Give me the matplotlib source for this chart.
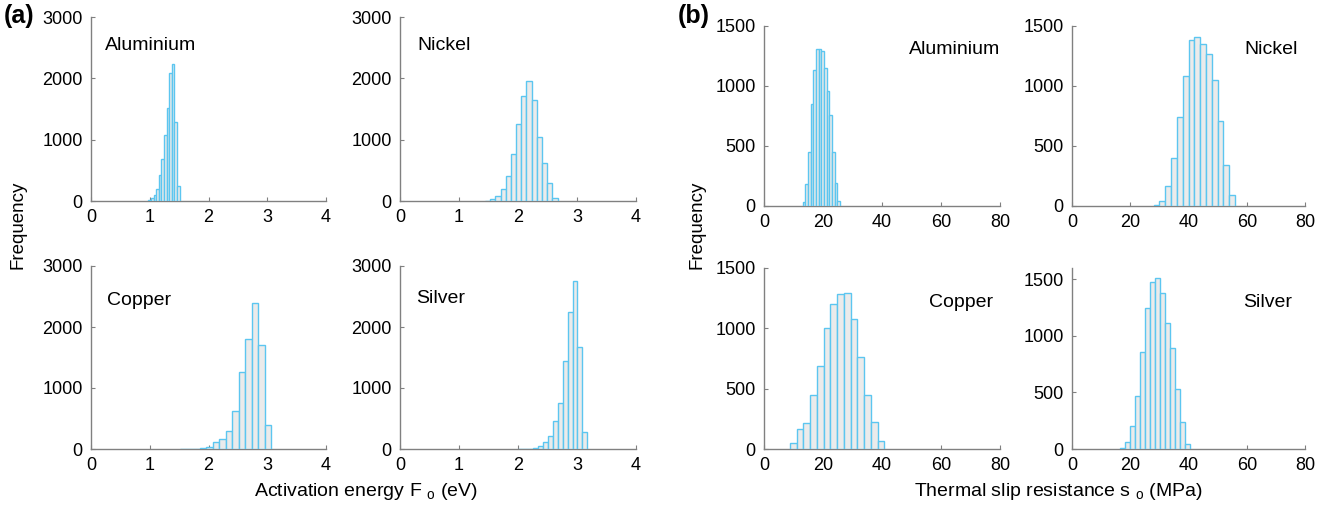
import numpy as np
import matplotlib
matplotlib.use('Agg')
import matplotlib.pyplot as plt

plt.rcParams['font.family'] = ['Liberation Sans', 'DejaVu Sans']
plt.rcParams['mathtext.fontset'] = 'custom'
plt.rcParams['mathtext.rm'] = 'Liberation Sans'
plt.rcParams['mathtext.it'] = 'Liberation Sans'

# (a) activation energy F_o (eV): bin range and counts
al_a_range = (0.977, 1.509)
al_a_counts = [15, 45, 100, 200, 430, 690, 1070, 1520, 2090, 2230, 1280, 250]
ni_a_range = (1.44, 2.67)
ni_a_counts = [5, 30, 80, 190, 400, 760, 1260, 1720, 1950, 1650, 1040, 620, 290, 50]
cu_a_range = (1.52, 3.07)
cu_a_counts = [2, 5, 8, 20, 40, 110, 160, 300, 620, 1260, 1810, 2400, 1700, 400]
ag_a_range = (2.006, 3.175)
ag_a_counts = [2, 4, 8, 20, 50, 110, 220, 460, 760, 1450, 2250, 2760, 1670, 280]

# (b) thermal slip resistance s_o (MPa)
al_b_range = (13.1, 25.7)
al_b_counts = [30, 180, 450, 850, 1130, 1310, 1310, 1290, 1150, 960, 760, 450, 190, 40]
ni_b_range = (28.0, 56.0)
ni_b_counts = [10, 45, 165, 400, 740, 1080, 1380, 1410, 1350, 1270, 1050, 710, 340, 90]
cu_b_range = (8.8, 40.8)
cu_b_counts = [50, 165, 215, 445, 690, 1000, 1200, 1285, 1290, 1075, 760, 445, 225, 70]
ag_b_range = (16.6, 40.6)
ag_b_counts = [10, 60, 200, 470, 860, 1250, 1480, 1510, 1380, 1110, 890, 530, 235, 45]

EDGE = '#5cc6f0'
FILL = '#ebebeb'
GREY = '#808080'
W, H = 1328, 509


def px_axes(fig, left, right, top, bottom):
    return fig.add_axes([left / W, 1 - bottom / H, (right - left) / W, (bottom - top) / H])


def hist_panel(ax, rng, counts, xlim, ylim, xticks, yticks, name, name_xy, ha='left'):
    edges = np.linspace(rng[0], rng[1], len(counts) + 1)
    ax.bar(edges[:-1], counts, width=np.diff(edges), align='edge',
           color=FILL, edgecolor=EDGE, linewidth=1.0, zorder=3)
    ax.set_xlim(*xlim)
    ax.set_ylim(*ylim)
    ax.set_xticks(xticks)
    ax.set_yticks(yticks)
    for s in ['top', 'right']:
        ax.spines[s].set_visible(False)
    for s in ['left', 'bottom']:
        ax.spines[s].set_color(GREY)
        ax.spines[s].set_linewidth(1.0)
    ax.tick_params(direction='in', length=3, color=GREY, labelsize=13, pad=6)
    ax.text(name_xy[0], name_xy[1], name, fontsize=14, ha=ha, va='center')


fig = plt.figure(figsize=(W / 100, H / 100), dpi=100)

xa = [0, 1, 2, 3, 4]
ya = [0, 1000, 2000, 3000]
ax = px_axes(fig, 91, 326, 17, 201)
hist_panel(ax, al_a_range, al_a_counts, (0, 4), (0, 3000), xa, ya, 'Aluminium', (0.24, 2540))
ax = px_axes(fig, 400, 636, 17, 201)
hist_panel(ax, ni_a_range, ni_a_counts, (0, 4), (0, 3000), xa, ya, 'Nickel', (0.29, 2540))
ax = px_axes(fig, 91, 326, 266, 449)
hist_panel(ax, cu_a_range, cu_a_counts, (0, 4), (0, 3000), xa, ya, 'Copper', (0.27, 2440))
ax = px_axes(fig, 400, 636, 266, 449)
hist_panel(ax, ag_a_range, ag_a_counts, (0, 4), (0, 3000), xa, ya, 'Silver', (0.27, 2475))

xb = [0, 20, 40, 60, 80]
yb = [0, 500, 1000, 1500]
ax = px_axes(fig, 764, 1000, 26, 206)
hist_panel(ax, al_b_range, al_b_counts, (0, 80), (0, 1500), xb, yb, 'Aluminium', (49, 1300))
ax = px_axes(fig, 1072, 1305, 26, 206)
hist_panel(ax, ni_b_range, ni_b_counts, (0, 80), (0, 1500), xb, yb, 'Nickel', (59.3, 1300))
ax = px_axes(fig, 764, 1000, 268, 449)
hist_panel(ax, cu_b_range, cu_b_counts, (0, 80), (0, 1500), xb, yb, 'Copper', (56, 1218))
ax = px_axes(fig, 1072, 1305, 268, 449)
hist_panel(ax, ag_b_range, ag_b_counts, (0, 80), (0, 1600), xb, yb, 'Silver', (58.6, 1297))

# shared labels
fig.text(18 / W, 1 - 225 / H, 'Frequency', rotation=90, fontsize=13.5, ha='center', va='center')
fig.text(697 / W, 1 - 225 / H, 'Frequency', rotation=90, fontsize=13.5, ha='center', va='center')
fig.text(366 / W, 1 - 492 / H, r'Activation energy F $_{\mathrm{o}}$ (eV)', fontsize=14,
         ha='center', va='center')
fig.text(1058 / W, 1 - 492 / H, r'Thermal slip resistance s $_{\mathrm{o}}$ (MPa)', fontsize=14,
         ha='center', va='center')
fig.text(4 / W, 1 - 16 / H, '(a)', fontsize=18, fontweight='bold', ha='left', va='center')
fig.text(678 / W, 1 - 16 / H, '(b)', fontsize=18, fontweight='bold', ha='left', va='center')

plt.savefig('out.png', dpi=100)
